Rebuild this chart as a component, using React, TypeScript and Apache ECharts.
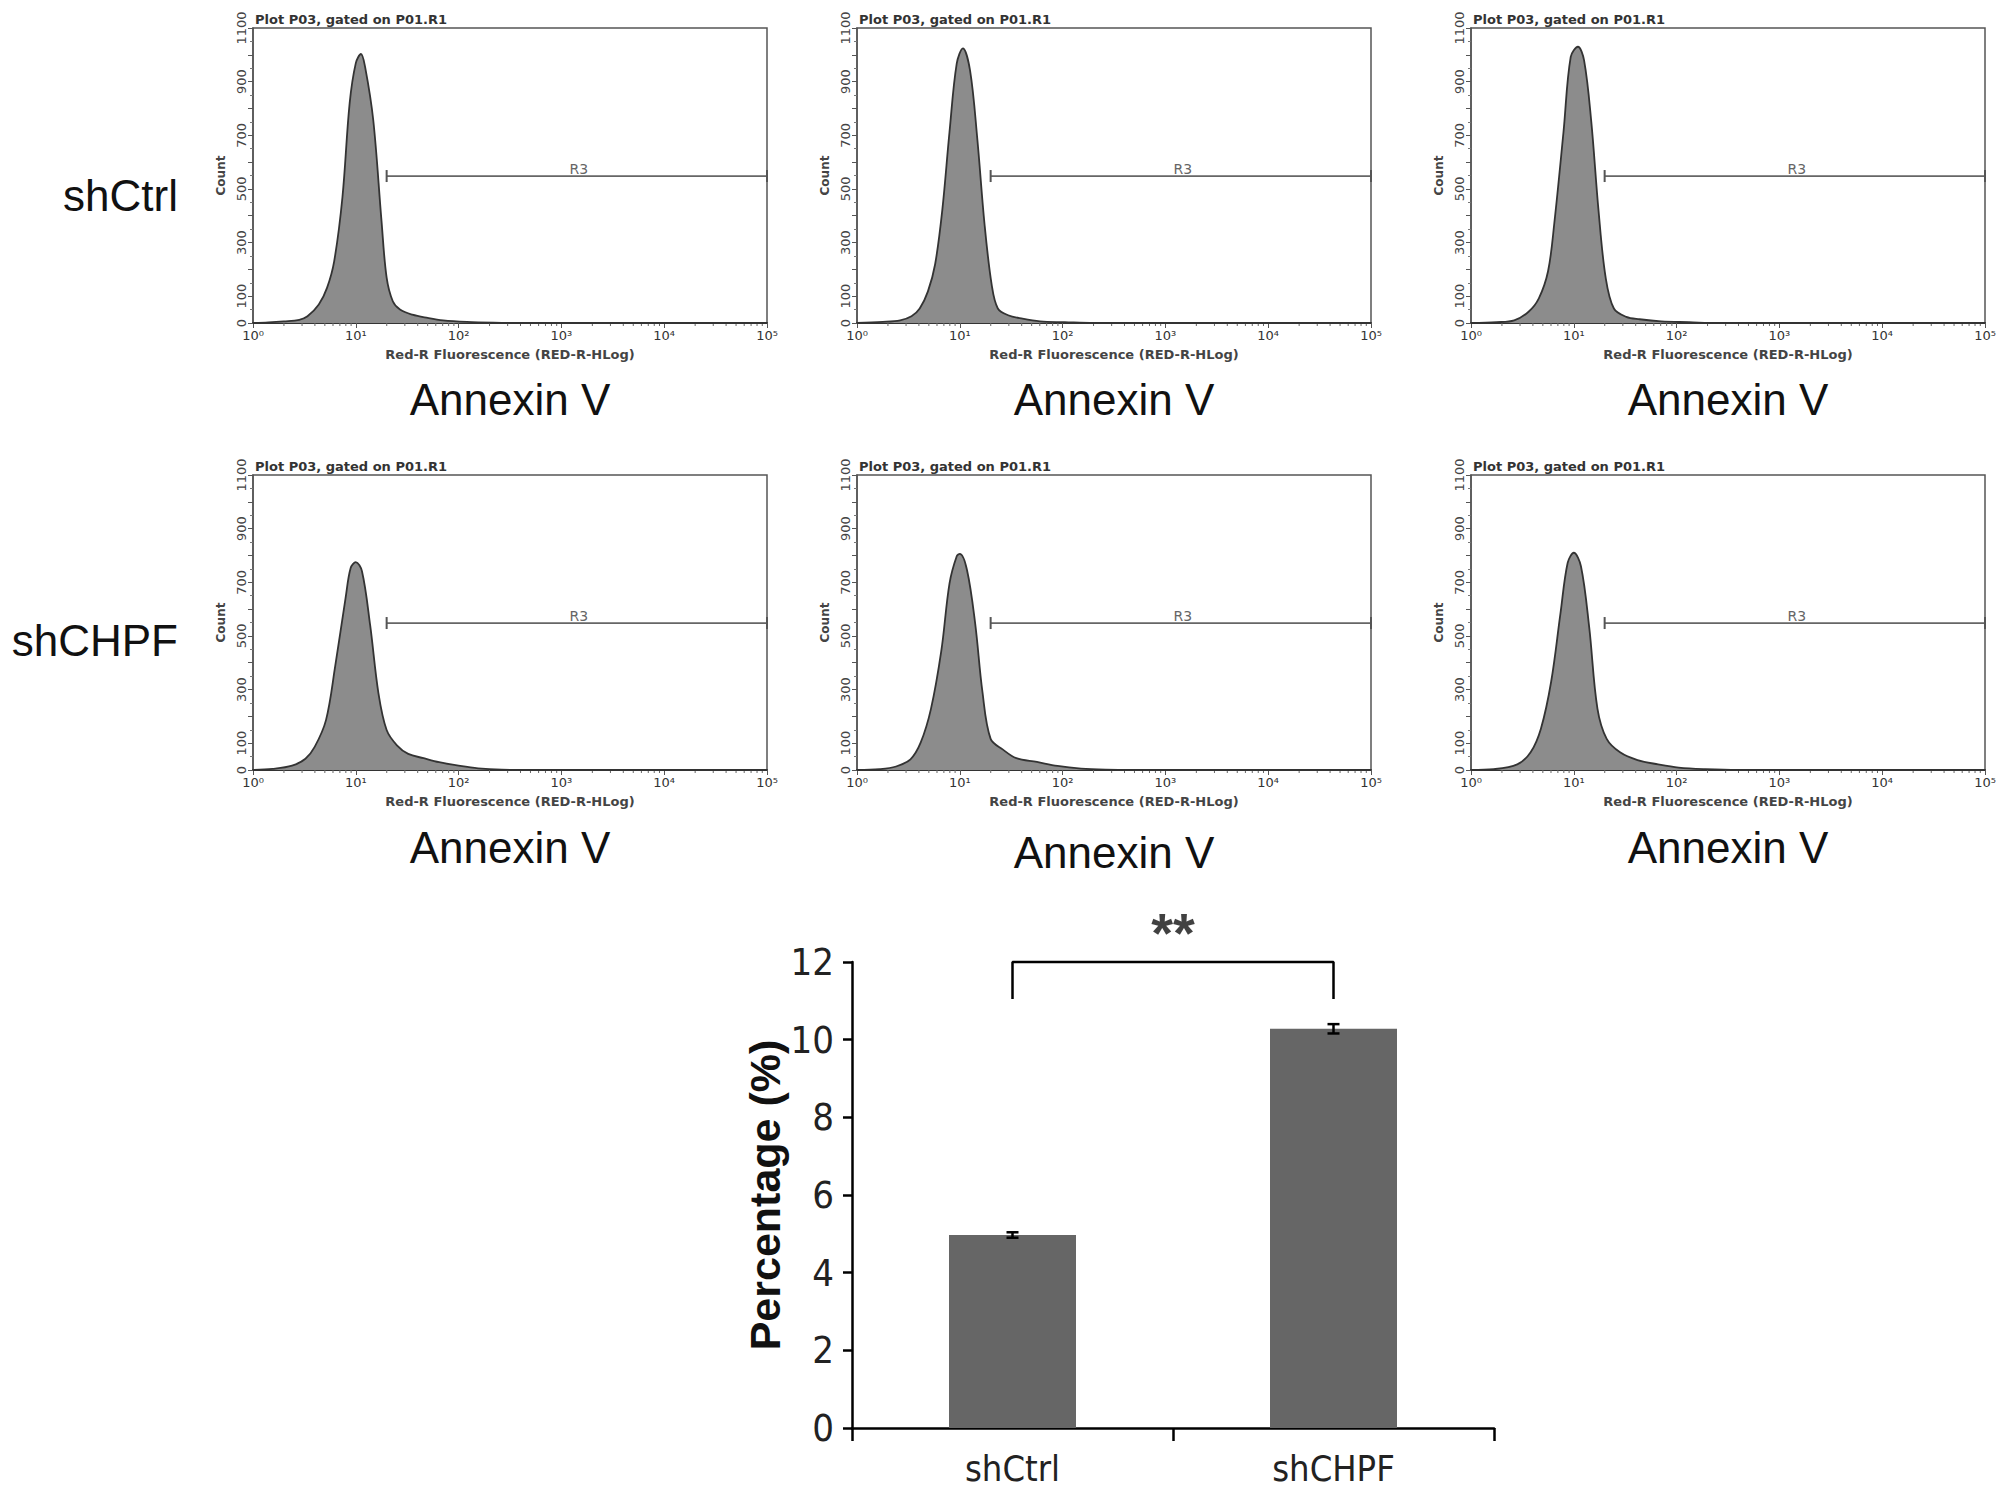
import React, { useEffect, useRef } from 'react';
import * as echarts from 'echarts';

// flow histograms: [log10 fluorescence, count]
const ctrl1 = [
  [0, 0], [0.15, 2], [0.3, 6], [0.45, 12], [0.53, 25], [0.64, 69], [0.72, 131], [0.79, 231],
  [0.87, 469], [0.94, 819], [1.0, 969], [1.05, 1003], [1.09, 956], [1.17, 756], [1.25, 381],
  [1.3, 169], [1.36, 81], [1.43, 50], [1.55, 31], [1.7, 19], [1.85, 10], [2.08, 4], [2.34, 1],
  [2.6, 0], [5, 0],
];
const ctrl2 = [
  [0, 0], [0.25, 4], [0.42, 10], [0.53, 25], [0.61, 54], [0.69, 118], [0.76, 219], [0.83, 422],
  [0.9, 713], [0.97, 967], [1.03, 1024], [1.1, 941], [1.17, 688], [1.24, 371], [1.31, 143],
  [1.37, 54], [1.47, 29], [1.61, 16], [1.78, 6], [2.02, 3], [2.3, 0], [5, 0],
];
const ctrl3 = [
  [0, 0], [0.25, 3], [0.42, 10], [0.56, 42], [0.66, 92], [0.75, 194], [0.81, 371], [0.9, 713],
  [0.97, 992], [1.04, 1030], [1.1, 979], [1.17, 751], [1.24, 422], [1.31, 169], [1.39, 54],
  [1.51, 23], [1.64, 14], [1.85, 6], [2.12, 3], [2.4, 0], [5, 0],
];
const chpf1 = [
  [0, 0], [0.19, 4], [0.38, 16], [0.51, 42], [0.6, 86], [0.71, 186], [0.8, 388], [0.9, 640],
  [0.95, 753], [1.0, 775], [1.06, 741], [1.14, 539], [1.22, 287], [1.3, 149], [1.4, 92],
  [1.51, 60], [1.66, 44], [1.81, 29], [2.0, 16], [2.19, 6], [2.42, 1], [2.7, 0], [5, 0],
];
const chpf2 = [
  [0, 0], [0.22, 3], [0.38, 13], [0.52, 40], [0.62, 103], [0.72, 229], [0.82, 444], [0.9, 696],
  [0.97, 797], [1.0, 806], [1.07, 746], [1.15, 545], [1.22, 292], [1.3, 116], [1.42, 76],
  [1.55, 44], [1.75, 30], [1.95, 15], [2.18, 5], [2.42, 1], [2.7, 0], [5, 0],
];
const chpf3 = [
  [0, 0], [0.22, 3], [0.45, 21], [0.58, 66], [0.68, 154], [0.78, 330], [0.87, 583], [0.94, 772],
  [1.0, 810], [1.07, 759], [1.15, 532], [1.23, 229], [1.32, 116], [1.45, 66], [1.62, 37],
  [1.82, 21], [2.02, 9], [2.28, 3], [2.6, 0], [5, 0],
];
const histograms = [ctrl1, ctrl2, ctrl3, chpf1, chpf2, chpf3];

const decadeLabels = ['10⁰', '10¹', '10²', '10³', '10⁴', '10⁵'];
const countLabels = [0, 100, 300, 500, 700, 900, 1100];
const gateRange = [1.3, 5];
const gateCount = 548;
const rowNames = ['shCtrl', 'shCHPF'];

// summary bar chart
const groups = ['shCtrl', 'shCHPF'];
const percentMeans = [4.97, 10.28];
const percentErrors = [0.07, 0.12];
const bracketBase = 11.05;
const bracketTop = 12;

const panelLeft = [253, 857, 1471];
const panelWidth = 514;
const rowTop = [28, 475];
const panelHeight = 295;

const minorLogTicks: number[] = [];
for (let d = 0; d < 5; d++) {
  for (let k = 2; k < 10; k++) minorLogTicks.push(d + Math.log10(k));
}

const smallFont = 'DejaVu Sans';
const armFont = 'Liberation Sans';
const narrowFont = "'Liberation Sans Narrow', 'DejaVu Sans Condensed', 'Liberation Sans'";

function buildOption() {
  const grid: any[] = [];
  const xAxis: any[] = [];
  const yAxis: any[] = [];
  const series: any[] = [];
  const graphic: any[] = [];

  histograms.forEach((hist, i) => {
    const r = Math.floor(i / 3);
    const c = i % 3;
    grid.push({
      left: panelLeft[c],
      top: rowTop[r],
      width: panelWidth,
      height: panelHeight,
      show: true,
      borderColor: '#555',
      borderWidth: 1.5,
      backgroundColor: 'transparent',
    });
    xAxis.push({
      type: 'value',
      gridIndex: i,
      min: 0,
      max: 5,
      interval: 1,
      splitLine: { show: false },
      axisLine: { show: true, lineStyle: { color: '#333', width: 2 } },
      axisTick: { show: true, length: 5, lineStyle: { color: '#555' } },
      axisLabel: {
        margin: 6,
        color: '#333',
        fontFamily: smallFont,
        fontSize: 13,
        formatter: (v: number) => decadeLabels[Math.round(v)],
      },
      name: 'Red-R Fluorescence (RED-R-HLog)',
      nameLocation: 'middle',
      nameGap: 25,
      nameTextStyle: { color: '#444', fontFamily: smallFont, fontSize: 13, fontWeight: 'bold' },
    });
    yAxis.push({
      type: 'value',
      gridIndex: i,
      min: 0,
      max: 1100,
      interval: 100,
      splitLine: { show: false },
      axisLine: { show: true, lineStyle: { color: '#555', width: 1.5 } },
      axisTick: { show: true, length: 5, lineStyle: { color: '#555' } },
      minorTick: { show: true, splitNumber: 2, length: 3, lineStyle: { color: '#777' } },
      axisLabel: {
        rotate: 90,
        margin: 5,
        color: '#444',
        fontFamily: smallFont,
        fontSize: 13,
        formatter: (v: number) => (countLabels.includes(v) ? String(v) : ''),
      },
      name: 'Count',
      nameLocation: 'middle',
      nameRotate: 90,
      nameGap: 26,
      nameTextStyle: { color: '#444', fontFamily: smallFont, fontSize: 12, fontWeight: 'bold' },
    });
    series.push({
      type: 'line',
      xAxisIndex: i,
      yAxisIndex: i,
      data: hist,
      smooth: 0.35,
      symbol: 'none',
      lineStyle: { color: '#333', width: 1.8 },
      areaStyle: { color: '#8c8c8c', opacity: 1 },
      z: 2,
    });
    series.push({
      type: 'line',
      xAxisIndex: i,
      yAxisIndex: i,
      data: [
        [gateRange[0], gateCount],
        {
          value: [(gateRange[0] + gateRange[1]) / 2 + 0.02, gateCount],
          symbol: 'circle',
          symbolSize: 0,
          label: {
            show: true,
            position: 'top',
            distance: 0,
            formatter: 'R3',
            color: '#666',
            fontFamily: smallFont,
            fontSize: 14,
          },
        },
        [gateRange[1], gateCount],
      ],
      symbol: 'rect',
      symbolSize: [2, 12],
      itemStyle: { color: '#555' },
      lineStyle: { color: '#666', width: 1.8 },
      z: 3,
    });
    series.push({
      type: 'custom',
      xAxisIndex: i,
      yAxisIndex: i,
      data: minorLogTicks.map((v) => [v]),
      encode: { x: 0 },
      silent: true,
      renderItem: (_p: any, api: any) => {
        const p = api.coord([api.value(0), 0]);
        return {
          type: 'line',
          shape: { x1: p[0], y1: p[1], x2: p[0], y2: p[1] + 3 },
          style: { stroke: '#666', lineWidth: 1 },
        };
      },
    });

    graphic.push({
      type: 'text',
      x: panelLeft[c] + 2,
      y: rowTop[r] - 2,
      style: {
        text: 'Plot P03, gated on P01.R1',
        fill: '#333',
        font: `bold 13px "${smallFont}"`,
        textVerticalAlign: 'bottom',
      },
    });
    graphic.push({
      type: 'text',
      x: panelLeft[c] + panelWidth / 2,
      y: r === 0 ? 399 : c === 1 ? 852 : 847,
      style: {
        text: 'Annexin V',
        fill: '#111',
        font: `44px "${armFont}"`,
        textAlign: 'center',
        textVerticalAlign: 'middle',
      },
    });
  });

  rowNames.forEach((name, r) => {
    graphic.push({
      type: 'text',
      x: 178,
      y: r === 0 ? 195 : 640,
      style: {
        text: name,
        fill: '#111',
        font: `44px "${armFont}"`,
        textAlign: 'right',
        textVerticalAlign: 'middle',
      },
    });
  });

  // bar chart grid
  const g = grid.length;
  grid.push({ left: 852, top: 962, width: 642, height: 466 });
  xAxis.push({
    type: 'category',
    gridIndex: g,
    data: groups,
    axisLine: { show: true, lineStyle: { color: '#000', width: 2.5 } },
    axisTick: { show: true, alignWithLabel: false, length: 13, lineStyle: { color: '#000', width: 2.5 } },
    axisLabel: { margin: 22, color: '#222', fontFamily: narrowFont, fontSize: 36, lineHeight: 36 },
  });
  xAxis.push({
    type: 'value',
    gridIndex: g,
    min: -0.5,
    max: 1.5,
    show: false,
  });
  yAxis.push({
    type: 'value',
    gridIndex: g,
    min: 0,
    max: 12,
    interval: 2,
    splitLine: { show: false },
    axisLine: { show: true, onZero: false, lineStyle: { color: '#000', width: 2.5 } },
    axisTick: { show: true, length: 9, lineStyle: { color: '#000', width: 2.5 } },
    axisLabel: { margin: 18, color: '#222', fontFamily: narrowFont, fontSize: 38 },
    name: 'Percentage (%)',
    nameLocation: 'middle',
    nameRotate: 90,
    nameGap: 62,
    nameTextStyle: { color: '#111', fontFamily: armFont, fontSize: 43, fontWeight: 'bold' },
  });
  const catX = xAxis.length - 2;
  const valX = xAxis.length - 1;
  const barY = yAxis.length - 1;
  series.push({
    type: 'bar',
    xAxisIndex: catX,
    yAxisIndex: barY,
    data: percentMeans,
    barWidth: 127,
    itemStyle: { color: '#666666' },
  });
  series.push({
    type: 'custom',
    xAxisIndex: catX,
    yAxisIndex: barY,
    data: percentMeans.map((m, i) => [i, m - percentErrors[i], m + percentErrors[i]]),
    encode: { x: 0, y: [1, 2] },
    z: 5,
    renderItem: (_p: any, api: any) => {
      const lo = api.coord([api.value(0), api.value(1)]);
      const hi = api.coord([api.value(0), api.value(2)]);
      const w = 6;
      const style = { stroke: '#000', lineWidth: 2.5 };
      return {
        type: 'group',
        children: [
          { type: 'line', shape: { x1: lo[0], y1: lo[1], x2: hi[0], y2: hi[1] }, style },
          { type: 'line', shape: { x1: lo[0] - w, y1: lo[1], x2: lo[0] + w, y2: lo[1] }, style },
          { type: 'line', shape: { x1: hi[0] - w, y1: hi[1], x2: hi[0] + w, y2: hi[1] }, style },
        ],
      };
    },
  });
  series.push({
    type: 'line',
    xAxisIndex: valX,
    yAxisIndex: barY,
    data: [[0, bracketBase], [0, bracketTop], [1, bracketTop], [1, bracketBase]],
    symbol: 'none',
    clip: false,
    lineStyle: { color: '#000', width: 2.5 },
  });
  series.push({
    type: 'scatter',
    xAxisIndex: valX,
    yAxisIndex: barY,
    data: [[0.5, bracketTop]],
    symbolSize: 0,
    clip: false,
    label: {
      show: true,
      position: 'top',
      distance: 2,
      formatter: '**',
      color: '#111',
      fontFamily: armFont,
      fontSize: 56,
      fontWeight: 'bold',
    },
  });

  return {
    animation: false,
    backgroundColor: '#fff',
    grid,
    xAxis,
    yAxis,
    series,
    graphic,
  };
}

export default function App() {
  const ref = useRef<HTMLDivElement>(null);

  useEffect(() => {
    if (!ref.current) return;
    const chart = echarts.init(ref.current, undefined, { renderer: 'svg' });
    chart.setOption(buildOption());
    return () => {
      chart.dispose();
    };
  }, []);

  return (
    <div
      ref={ref}
      style={{ position: 'fixed', left: 0, top: 0, width: 2008, height: 1492, background: '#fff' }}
    />
  );
}
